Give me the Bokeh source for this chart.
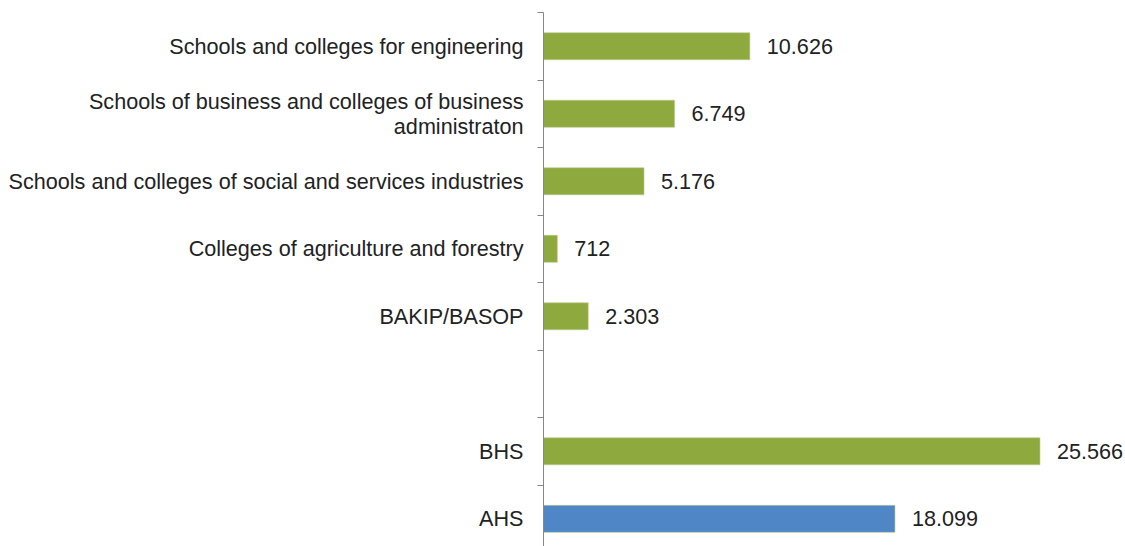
from bokeh.plotting import figure
from bokeh.models import Range1d, FixedTicker, ColumnDataSource
from bokeh.core.properties import value
from bokeh.embed import file_html
from bokeh.resources import INLINE

# Data (top to bottom); the blank entry is an empty slot in the chart
categories = [
    "Schools and colleges for engineering",
    "Schools of business and colleges of business\nadministraton",
    "Schools and colleges of social and services industries",
    "Colleges of agriculture and forestry",
    "BAKIP/BASOP",
    "",
    "BHS",
    "AHS",
]
values = [10626, 6749, 5176, 712, 2303, None, 25566, 18099]
bar_colors = ["#8EA93E", "#8EA93E", "#8EA93E", "#8EA93E", "#8EA93E", None, "#8EA93E", "#4F86C6"]

FONT = "Liberation Sans"
FS = "21.6px"

ys = list(range(len(categories)))
src = ColumnDataSource(dict(
    y=[y for y, v in zip(ys, values) if v is not None],
    v=[v for v in values if v is not None],
    c=[c for c, v in zip(bar_colors, values) if v is not None],
    lab=[f"{v:,}".replace(",", ".") for v in values if v is not None],
))

p = figure(width=1125, height=546, output_backend="svg", toolbar_location=None,
           x_range=Range1d(0, 29970), y_range=Range1d(7.41, -0.5),
           x_axis_location=None, min_border_left=543, min_border_top=12,
           min_border_bottom=0, min_border_right=0)
p.outline_line_color = None
p.xgrid.visible = False
p.ygrid.visible = False
p.background_fill_color = "white"
p.border_fill_color = "white"

p.hbar(y="y", left=0, right="v", height=0.4, fill_color="c",
       line_color="#B9CB8E", line_width=1, line_alpha=0.6, source=src)
p.text(x="v", y="y", text="lab", x_offset=17, text_align="left",
       text_baseline="middle", text_font=value(FONT), text_font_size=FS,
       text_color="#222222", source=src)

ax = p.yaxis[0]
ax.ticker = FixedTicker(ticks=ys, minor_ticks=[y - 0.5 for y in ys] + [len(ys) - 0.5])
ax.major_label_overrides = {y: c for y, c in zip(ys, categories)}
ax.major_tick_out = 0
ax.major_tick_in = 0
ax.minor_tick_out = 6
ax.minor_tick_in = 0
ax.minor_tick_line_color = "#868686"
ax.axis_line_color = "#868686"
ax.axis_line_width = 1
ax.major_label_standoff = 14
ax.major_label_text_font = FONT
ax.major_label_text_font_size = FS
ax.major_label_text_line_height = 1.0
ax.major_label_text_color = "#222222"

open("out.html", "w").write(file_html(p, INLINE))
